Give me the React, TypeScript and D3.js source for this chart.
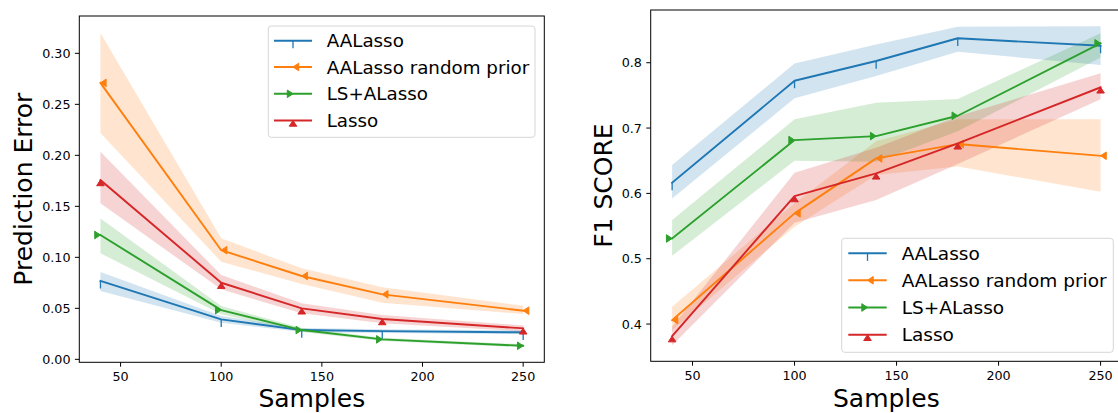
import React from 'react';
import * as d3 from 'd3';

// Sample sizes shared by both panels
const samples = [40, 100, 140, 180, 250];
const methodNames = ['AALasso', 'AALasso random prior', 'LS+ALasso', 'Lasso'];
const methodColors = ['#1f77b4', '#ff7f0e', '#2ca02c', '#d62728'];
const methodMarkers = ['tickdown', 'caretleft', 'caretright', 'caretup'];

// Prediction error (mean, lower band, upper band)
const errAALasso = [0.0768, 0.0392, 0.0287, 0.0277, 0.0265];
const errAALassoLo = [0.067, 0.0359, 0.0267, 0.0259, 0.0247];
const errAALassoHi = [0.0856, 0.0425, 0.0307, 0.0295, 0.0283];

const errRandom = [0.271, 0.107, 0.0817, 0.0637, 0.0477];
const errRandomLo = [0.222, 0.0957, 0.0738, 0.0555, 0.0444];
const errRandomHi = [0.32, 0.1186, 0.0892, 0.0706, 0.0526];

const errLS = [0.1219, 0.0483, 0.0287, 0.0196, 0.0133];
const errLSLo = [0.104, 0.0443, 0.0267, 0.0181, 0.0118];
const errLSHi = [0.138, 0.0523, 0.0307, 0.0211, 0.0148];

const errLasso = [0.1758, 0.0751, 0.05, 0.0395, 0.0304];
const errLassoLo = [0.153, 0.0686, 0.0451, 0.0355, 0.0274];
const errLassoHi = [0.2035, 0.0826, 0.0549, 0.0435, 0.0333];

// F1 score (mean, lower band, upper band)
const f1AALasso = [0.6163, 0.7724, 0.8026, 0.8374, 0.826];
const f1AALassoLo = [0.5923, 0.7455, 0.7796, 0.8168, 0.7965];
const f1AALassoHi = [0.6433, 0.799, 0.828, 0.855, 0.856];

const f1Random = [0.406, 0.5694, 0.6536, 0.6755, 0.6576];
const f1RandomLo = [0.3907, 0.549, 0.628, 0.641, 0.6025];
const f1RandomHi = [0.4264, 0.585, 0.68, 0.7133, 0.7133];

const f1LS = [0.531, 0.6816, 0.6877, 0.7188, 0.8297];
const f1LSLo = [0.5045, 0.65, 0.6484, 0.695, 0.808];
const f1LSHi = [0.5591, 0.7133, 0.7388, 0.7444, 0.845];

const f1Lasso = [0.3815, 0.5959, 0.6306, 0.6766, 0.7623];
const f1LassoLo = [0.3677, 0.555, 0.59, 0.645, 0.744];
const f1LassoHi = [0.3957, 0.6316, 0.67, 0.718, 0.7838];

const xTicks = [50, 100, 150, 200, 250];
const errTicks = [0, 0.05, 0.1, 0.15, 0.2, 0.25, 0.3];
const f1Ticks = [0.4, 0.5, 0.6, 0.7, 0.8];

const FONT = 'DejaVu Sans';

type Series = { mean: number[]; lo: number[]; hi: number[] };

const errSeries: Series[] = [
  { mean: errAALasso, lo: errAALassoLo, hi: errAALassoHi },
  { mean: errRandom, lo: errRandomLo, hi: errRandomHi },
  { mean: errLS, lo: errLSLo, hi: errLSHi },
  { mean: errLasso, lo: errLassoLo, hi: errLassoHi },
];

const f1Series: Series[] = [
  { mean: f1AALasso, lo: f1AALassoLo, hi: f1AALassoHi },
  { mean: f1Random, lo: f1RandomLo, hi: f1RandomHi },
  { mean: f1LS, lo: f1LSLo, hi: f1LSHi },
  { mean: f1Lasso, lo: f1LassoLo, hi: f1LassoHi },
];

const MS = 7.6; // marker size in px

function Marker({ kind, x, y, color }: { kind: string; x: number; y: number; color: string }) {
  const h = MS / 2;
  const l = MS * 0.75;
  if (kind === 'tickdown') {
    return <line x1={x} y1={y} x2={x} y2={y + MS} stroke={color} strokeWidth={1.3} />;
  }
  let pts: number[][] = [];
  if (kind === 'caretleft') pts = [[x, y], [x + l, y - h], [x + l, y + h]];
  if (kind === 'caretright') pts = [[x, y], [x - l, y - h], [x - l, y + h]];
  if (kind === 'caretup') pts = [[x, y], [x - h, y + l], [x + h, y + l]];
  return (
    <polygon
      points={pts.map((p) => p.join(',')).join(' ')}
      fill={color}
      stroke={color}
      strokeWidth={1}
      strokeLinejoin="miter"
    />
  );
}

type PanelProps = {
  x0: number;
  x1: number;
  y0: number;
  y1: number;
  yDomain: [number, number];
  yTicks: number[];
  yFormat: (v: number) => string;
  yLabel: string;
  yLabelX: number;
  series: Series[];
  legend: { x: number; y: number; w: number; h: number; lineX0: number; lineX1: number; textX: number; rows: number[]; fs: number };
  id: string;
};

function Panel(p: PanelProps) {
  const xs = d3.scaleLinear().domain([29.5, 260.5]).range([p.x0, p.x1]);
  const ys = d3.scaleLinear().domain(p.yDomain).range([p.y1, p.y0]);
  const line = d3
    .line<number>()
    .x((_, i) => xs(samples[i]))
    .y((d) => ys(d));
  const area = (s: Series) =>
    d3
      .area<number>()
      .x((_, i) => xs(samples[i]))
      .y0((_, i) => ys(s.lo[i]))
      .y1((_, i) => ys(s.hi[i]))(s.mean) as string;

  const tickLen = 4.4;
  const pad = 4.4;
  const tickFs = 12.7;
  const lg = p.legend;
  const midY = (p.y0 + p.y1) / 2;
  const midX = (p.x0 + p.x1) / 2;

  return (
    <g fontFamily={FONT}>
      <defs>
        <clipPath id={`clip-${p.id}`}>
          <rect x={p.x0} y={p.y0} width={p.x1 - p.x0} height={p.y1 - p.y0} />
        </clipPath>
      </defs>
      <g clipPath={`url(#clip-${p.id})`}>
        {p.series.map((s, k) => (
          <path key={`band${k}`} d={area(s)} fill={methodColors[k]} fillOpacity={0.2} stroke="none" />
        ))}
        {p.series.map((s, k) => (
          <g key={`line${k}`}>
            <path d={line(s.mean) as string} fill="none" stroke={methodColors[k]} strokeWidth={1.9} strokeLinejoin="round" strokeLinecap="square" />
            {s.mean.map((v, i) => (
              <Marker key={i} kind={methodMarkers[k]} x={xs(samples[i])} y={ys(v)} color={methodColors[k]} />
            ))}
          </g>
        ))}
      </g>

      {/* frame */}
      <rect x={p.x0} y={p.y0} width={p.x1 - p.x0} height={p.y1 - p.y0} fill="none" stroke="#000" strokeWidth={1} />

      {/* x axis */}
      {xTicks.map((t) => (
        <g key={`xt${t}`}>
          <line x1={xs(t)} x2={xs(t)} y1={p.y1} y2={p.y1 + tickLen} stroke="#000" strokeWidth={1} />
          <text x={xs(t)} y={p.y1 + tickLen + pad + 9.6} fontSize={tickFs} textAnchor="middle" fill="#000">
            {t}
          </text>
        </g>
      ))}
      {/* y axis */}
      {p.yTicks.map((t) => (
        <g key={`yt${t}`}>
          <line x1={p.x0 - tickLen} x2={p.x0} y1={ys(t)} y2={ys(t)} stroke="#000" strokeWidth={1} />
          <text x={p.x0 - tickLen - pad} y={ys(t) + 4.6} fontSize={tickFs} textAnchor="end" fill="#000">
            {p.yFormat(t)}
          </text>
        </g>
      ))}

      <text x={midX} y={407} fontSize={25} textAnchor="middle" fill="#000">
        Samples
      </text>
      <text
        transform={`translate(${p.yLabelX},${midY}) rotate(-90)`}
        fontSize={25}
        textAnchor="middle"
        fill="#000"
      >
        {p.yLabel}
      </text>

      {/* legend */}
      <rect x={lg.x} y={lg.y} width={lg.w} height={lg.h} rx={3} ry={3} fill="#fff" fillOpacity={0.8} stroke="#d6d6d6" strokeWidth={1} />
      {methodNames.map((name, k) => {
        const ry = lg.rows[k];
        const cx = (lg.lineX0 + lg.lineX1) / 2;
        return (
          <g key={name}>
            <line x1={lg.lineX0} x2={lg.lineX1} y1={ry} y2={ry} stroke={methodColors[k]} strokeWidth={1.9} />
            <Marker kind={methodMarkers[k]} x={cx} y={ry} color={methodColors[k]} />
            <text x={lg.textX} y={ry + lg.fs * 0.36} fontSize={lg.fs} fill="#000">
              {name}
            </text>
          </g>
        );
      })}
    </g>
  );
}

export default function App() {
  return (
    <svg
      width={1118}
      height={413}
      viewBox="0 0 1118 413"
      style={{ position: 'absolute', left: 0, top: 0, background: '#fff' }}
    >
      <rect x={0} y={0} width={1118} height={413} fill="#fff" />
      <Panel
        id="err"
        x0={79.3}
        x1={544.3}
        y0={16}
        y1={362.3}
        yDomain={[-0.0029, 0.3366]}
        yTicks={errTicks}
        yFormat={(v) => d3.format('.2f')(v)}
        yLabel="Prediction Error"
        yLabelX={32}
        series={errSeries}
        legend={{ x: 268.3, y: 26, w: 266.7, h: 111.3, lineX0: 274, lineX1: 312, textX: 326.7, rows: [40.7, 67, 93.8, 120.5], fs: 18.3 }}
      />
      <Panel
        id="f1"
        x0={650.7}
        x1={1122}
        y0={10}
        y1={361.3}
        yDomain={[0.343, 0.8807]}
        yTicks={f1Ticks}
        yFormat={(v) => d3.format('.1f')(v)}
        yLabel="F1 SCORE"
        yLabelX={612}
        series={f1Series}
        legend={{ x: 841.7, y: 238.3, w: 271.6, h: 114, lineX0: 848.3, lineX1: 886.7, textX: 901.7, rows: [253.3, 280.3, 307.5, 334.8], fs: 18.5 }}
      />
    </svg>
  );
}
